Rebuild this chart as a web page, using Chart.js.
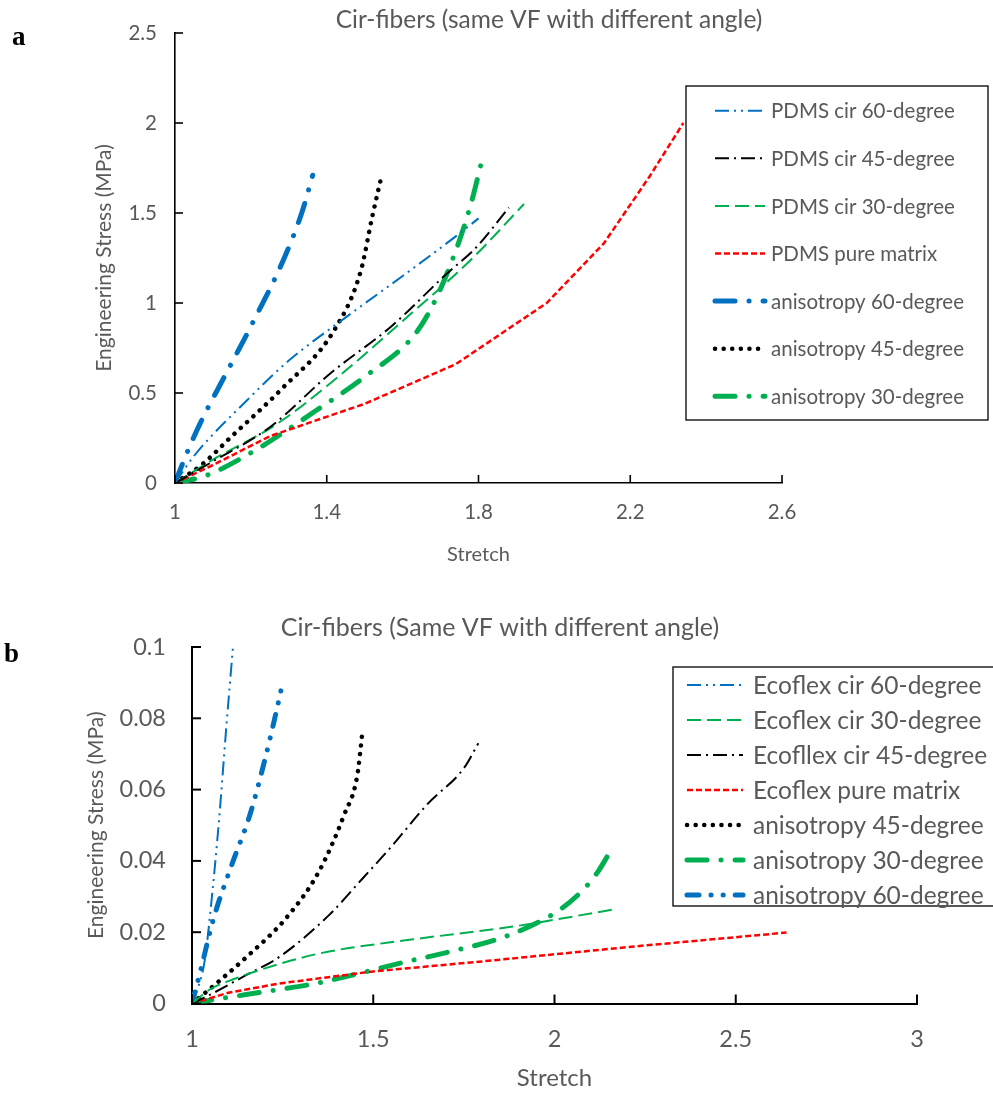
<!DOCTYPE html>
<html>
<head>
<meta charset="utf-8">
<script src="https://cdn.jsdelivr.net/npm/chart.js@4.4.1/dist/chart.umd.min.js"></script>
<style>
  html, body { margin: 0; padding: 0; background: #fff; }
  body { width: 993px; height: 1093px; position: relative; overflow: hidden; }
  canvas { position: absolute; left: 0; }
  #chartA { top: 0; }
  #chartB { top: 590px; }
  .tag { position: absolute; font-family: "Liberation Serif", "DejaVu Serif", serif; font-weight: bold; font-size: 27px; color: #000; line-height: 1; }
</style>
</head>
<body>
<canvas id="chartA" width="993" height="590"></canvas>
<canvas id="chartB" width="993" height="503"></canvas>
<div class="tag" style="left:12px; top:23px;">a</div>
<div class="tag" style="left:4px; top:640px;">b</div>
<script>
// ---------- Panel a: PDMS (stretch vs engineering stress, MPa) ----------
const pdmsCir60X = [1, 1.05, 1.19, 1.3, 1.45, 1.6, 1.74, 1.8];
const pdmsCir60Y = [0, 0.15, 0.46, 0.68, 0.92, 1.15, 1.37, 1.47];
const pdmsCir45X = [1, 1.1, 1.25, 1.41, 1.57, 1.72, 1.79, 1.88];
const pdmsCir45Y = [0, 0.12, 0.31, 0.61, 0.87, 1.17, 1.30, 1.53];
const pdmsCir30X = [1, 1.1, 1.27, 1.43, 1.6, 1.78, 1.92];
const pdmsCir30Y = [0, 0.13, 0.33, 0.59, 0.9, 1.24, 1.55];
const pdmsPureX = [1, 1.1, 1.25, 1.5, 1.74, 1.98, 2.13, 2.25, 2.34];
const pdmsPureY = [0, 0.1, 0.26, 0.44, 0.66, 1.0, 1.33, 1.7, 2.0];
const pdmsAniso60X = [1, 1.03, 1.066, 1.12, 1.2, 1.29, 1.334, 1.363];
const pdmsAniso60Y = [0, 0.16, 0.33, 0.55, 0.87, 1.26, 1.5, 1.71];
const pdmsAniso45X = [1, 1.07, 1.15, 1.28, 1.42, 1.49, 1.52, 1.545];
const pdmsAniso45Y = [0, 0.1, 0.26, 0.52, 0.85, 1.18, 1.48, 1.71];
const pdmsAniso30X = [1, 1.08, 1.21, 1.37, 1.5, 1.63, 1.68, 1.74, 1.78, 1.81];
const pdmsAniso30Y = [0, 0.04, 0.18, 0.4, 0.59, 0.82, 0.99, 1.29, 1.55, 1.8];

const xTicksA = [1, 1.4, 1.8, 2.2, 2.6];
const yTicksA = [0, 0.5, 1, 1.5, 2, 2.5];

// ---------- Panel b: Ecoflex ----------
const ecoCir60X = [1, 1.015, 1.035, 1.055, 1.075, 1.095, 1.113];
const ecoCir60Y = [0, 0.004, 0.012, 0.03, 0.052, 0.078, 0.1];
const ecoCir30X = [1, 1.05, 1.12, 1.16, 1.35, 1.61, 1.88, 2.17];
const ecoCir30Y = [0, 0.004, 0.007, 0.0085, 0.014, 0.018, 0.0215, 0.0265];
const ecoCir45X = [1, 1.06, 1.15, 1.24, 1.38, 1.47, 1.55, 1.65, 1.75, 1.79];
const ecoCir45Y = [0, 0.003, 0.008, 0.013, 0.025, 0.035, 0.044, 0.056, 0.066, 0.073];
const ecoPureX = [1, 1.1, 1.24, 1.5, 1.8, 2.22, 2.64];
const ecoPureY = [0, 0.003, 0.0056, 0.009, 0.0118, 0.016, 0.0199];
const ecoAniso45X = [1, 1.06, 1.15, 1.26, 1.35, 1.42, 1.456, 1.47];
const ecoAniso45Y = [0, 0.005, 0.013, 0.024, 0.037, 0.053, 0.064, 0.076];
const ecoAniso30X = [1, 1.08, 1.2, 1.34, 1.46, 1.59, 1.71, 1.87, 2.01, 2.08, 2.12, 2.15];
const ecoAniso30Y = [0, 0.0014, 0.0033, 0.0056, 0.0084, 0.0117, 0.0145, 0.019, 0.026, 0.032, 0.037, 0.042];
const ecoAniso60X = [1, 1.023, 1.06, 1.11, 1.16, 1.2, 1.235, 1.25];
const ecoAniso60Y = [0, 0.009, 0.024, 0.039, 0.053, 0.068, 0.083, 0.09];

const xTicksB = [1, 1.5, 2, 2.5, 3];
const yTicksB = [0, 0.02, 0.04, 0.06, 0.08, 0.1];

// ---------- shared look ----------
const FONT = 'Lato, "Open Sans", "Noto Sans", sans-serif';
const GREY = '#595959';
const BLUE = '#0070C0', GREEN = '#00B050', RED = '#FF0000', BLACK = '#000000';

const LINE = {
  cir60:   { color: BLUE,  width: 2,   dash: [14, 5, 2, 5, 2, 5], cap: 'butt', smooth: true },
  cir45:   { color: BLACK, width: 2,   dash: [14, 5, 2, 5], cap: 'butt', smooth: true },
  cir30:   { color: GREEN, width: 2,   dash: [14, 6], cap: 'butt', smooth: true },
  pure:    { color: RED,   width: 2.5, dash: [6, 3], cap: 'butt', smooth: false },
  aniso60: { color: BLUE,  width: 5,   dash: [20, 14, 0.1, 14], cap: 'round', smooth: true },
  aniso45: { color: BLACK, width: 4.5, dash: [0.1, 8.5], cap: 'round', smooth: true },
  aniso30: { color: GREEN, width: 5,   dash: [20, 14, 0.1, 14], cap: 'round', smooth: true },
  aniso60b:{ color: BLUE,  width: 5,   dash: [12, 12, 0.1, 12, 0.1, 12], cap: 'round', smooth: true }
};

function series(label, xs, ys, st) {
  return {
    label,
    data: xs.map((x, i) => ({ x, y: ys[i] })),
    borderColor: st.color,
    backgroundColor: st.color,
    borderWidth: st.width,
    borderDash: st.dash,
    borderCapStyle: st.cap,
    borderJoinStyle: 'round',
    cubicInterpolationMode: st.smooth ? 'monotone' : 'default',
    pointRadius: 0,
    tension: 0,
    fill: false
  };
}

// Text, boxed legend and inward tick marks drawn on top of the chart
const decorations = {
  id: 'decorations',
  afterDraw(chart, args, o) {
    const ctx = chart.ctx;
    ctx.save();
    // inward tick marks
    ['x', 'y'].forEach(id => {
      const s = chart.scales[id];
      ctx.strokeStyle = '#000';
      ctx.lineWidth = o.tickWidth;
      ctx.setLineDash([]);
      s.ticks.forEach(t => {
        const p = s.getPixelForValue(t.value);
        ctx.beginPath();
        if (id === 'x') { ctx.moveTo(p, s.top); ctx.lineTo(p, s.top - o.tickLen); }
        else { ctx.moveTo(s.right, p); ctx.lineTo(s.right + o.tickLen, p); }
        ctx.stroke();
      });
    });
    // chart title
    ctx.fillStyle = GREY;
    ctx.font = o.titleSize + 'px ' + FONT;
    ctx.textAlign = 'center';
    ctx.textBaseline = 'middle';
    ctx.fillText(o.title, o.titleX, o.titleY);
    // legend box
    const L = o.legend;
    ctx.fillStyle = '#fff';
    ctx.fillRect(L.x, L.y, L.w, L.h);
    ctx.strokeStyle = '#000';
    ctx.lineWidth = 1.3;
    ctx.strokeRect(L.x, L.y, L.w, L.h);
    ctx.font = L.size + 'px ' + FONT;
    ctx.textAlign = 'left';
    chart.data.datasets.forEach((ds, i) => {
      const y = L.row0 + i * L.gap;
      ctx.strokeStyle = ds.borderColor;
      ctx.lineWidth = ds.borderWidth;
      ctx.lineCap = ds.borderCapStyle;
      ctx.setLineDash(ds.borderDash);
      ctx.beginPath();
      ctx.moveTo(L.s0, y);
      ctx.lineTo(L.s1, y);
      ctx.stroke();
      ctx.setLineDash([]);
      ctx.fillStyle = GREY;
      ctx.fillText(ds.label, L.tx, y + 1);
    });
    ctx.restore();
  }
};

function axes(o) {
  return {
    x: {
      type: 'linear', min: o.xTicks[0], max: o.xTicks[o.xTicks.length - 1],
      afterBuildTicks: s => { s.ticks = o.xTicks.map(v => ({ value: v })); },
      afterFit: s => { s.height = o.xH; },
      grid: { display: false, drawTicks: false },
      border: { display: true, color: '#000', width: o.bw },
      ticks: { color: GREY, font: { family: FONT, size: o.tickSize }, padding: o.xPad, maxRotation: 0, autoSkip: false, callback: v => String(v) },
      title: { display: true, text: 'Stretch', color: GREY, font: { family: FONT, size: o.xTitleSize }, padding: { top: 0, bottom: o.xTitlePad } }
    },
    y: {
      type: 'linear', min: o.yTicks[0], max: o.yTicks[o.yTicks.length - 1],
      afterBuildTicks: s => { s.ticks = o.yTicks.map(v => ({ value: v })); },
      afterFit: s => { s.width = o.yW; },
      grid: { display: false, drawTicks: false },
      border: { display: true, color: '#000', width: o.bw },
      ticks: { color: GREY, font: { family: FONT, size: o.tickSize }, padding: o.yPad, autoSkip: false, callback: v => String(v) },
      title: { display: true, text: 'Engineering Stress (MPa)', color: GREY, font: { family: FONT, size: o.yTitleSize }, padding: { top: o.yTitlePad, bottom: 0 } }
    }
  };
}

function build(canvasId, datasets, ax, pad, deco) {
  return new Chart(document.getElementById(canvasId), {
    type: 'line',
    data: { datasets },
    options: {
      responsive: false,
      animation: false,
      devicePixelRatio: 1,
      parsing: false,
      layout: { padding: pad },
      scales: axes(ax),
      plugins: { legend: { display: false }, tooltip: { enabled: false }, decorations: deco }
    },
    plugins: [decorations]
  });
}

// Panel a
build('chartA', [
  series('PDMS cir 60-degree', pdmsCir60X, pdmsCir60Y, LINE.cir60),
  series('PDMS cir 45-degree', pdmsCir45X, pdmsCir45Y, LINE.cir45),
  series('PDMS cir 30-degree', pdmsCir30X, pdmsCir30Y, LINE.cir30),
  series('PDMS pure matrix', pdmsPureX, pdmsPureY, LINE.pure),
  series('anisotropy 60-degree', pdmsAniso60X, pdmsAniso60Y, LINE.aniso60),
  series('anisotropy 45-degree', pdmsAniso45X, pdmsAniso45Y, LINE.aniso45),
  series('anisotropy 30-degree', pdmsAniso30X, pdmsAniso30Y, LINE.aniso30)
], {
  xTicks: xTicksA, yTicks: yTicksA, xH: 107, yW: 175, bw: 1.6,
  tickSize: 20.5, xPad: 17, yPad: 18, xTitleSize: 20, xTitlePad: 23, yTitleSize: 21, yTitlePad: 92
}, { left: 0, top: 33, right: 211, bottom: 0 }, {
  title: 'Cir-fibers (same VF with different angle)', titleX: 549, titleY: 20, titleSize: 24.5,
  tickLen: 8, tickWidth: 1.6,
  legend: { x: 686, y: 86, w: 302, h: 334, row0: 110.7, gap: 47.6, s0: 715, s1: 765, tx: 771, size: 20.5 }
});

// Panel b
build('chartB', [
  series('Ecoflex cir 60-degree', ecoCir60X, ecoCir60Y, LINE.cir60),
  series('Ecoflex cir 30-degree', ecoCir30X, ecoCir30Y, LINE.cir30),
  series('Ecofllex cir 45-degree', ecoCir45X, ecoCir45Y, LINE.cir45),
  series('Ecoflex pure matrix', ecoPureX, ecoPureY, LINE.pure),
  series('anisotropy 45-degree', ecoAniso45X, ecoAniso45Y, LINE.aniso45),
  series('anisotropy 30-degree', ecoAniso30X, ecoAniso30Y, LINE.aniso30),
  series('anisotropy 60-degree', ecoAniso60X, ecoAniso60Y, LINE.aniso60b)
], {
  xTicks: xTicksB, yTicks: yTicksB, xH: 89.5, yW: 192, bw: 2,
  tickSize: 23.5, xPad: 22, yPad: 26, xTitleSize: 24, xTitlePad: 0, yTitleSize: 21, yTitlePad: 84
}, { left: 0, top: 57, right: 76, bottom: 0 }, {
  title: 'Cir-fibers (Same VF with different angle)', titleX: 500, titleY: 38, titleSize: 25,
  tickLen: 9, tickWidth: 2,
  legend: { x: 673, y: 77, w: 330, h: 239, row0: 95, gap: 35, s0: 687, s1: 743, tx: 753, size: 24.5 }
});
</script>
</body>
</html>
